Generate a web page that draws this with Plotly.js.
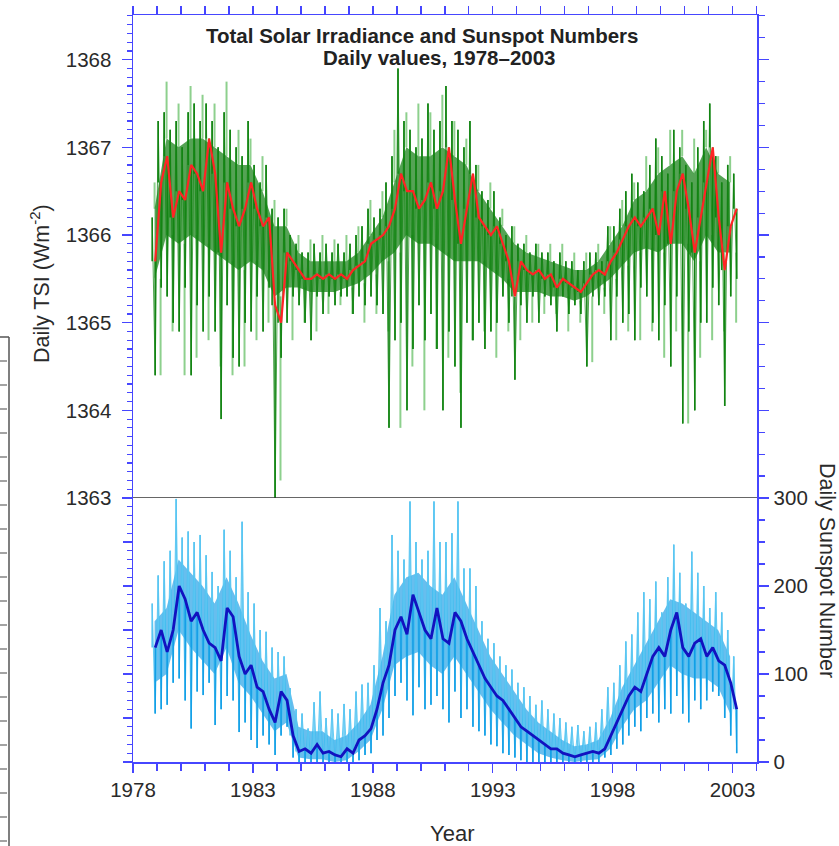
<!DOCTYPE html>
<html>
<head>
<meta charset="utf-8">
<script src="https://cdn.plot.ly/plotly-3.0.1.min.js"></script>
<style>html,body{margin:0;padding:0;background:#fff;}#chart{width:839px;height:846px;}</style>
</head>
<body>
<div id="chart"></div>
<script>
// ---- sampling grids ----
const gridStart = 1978.8;   // quarter-year samples
const gridStep = 0.25;
const halfStart = 1978.9;   // half-year samples
const halfStep = 0.5;

// Daily TSI (W m^-2): upward and downward daily excursions per quarter year (dark green)
const tsiHigh = [1366.2,1367.3,1367.4,1367.2,1367.3,1367.0,1367.4,1367.5,1367.3,1367.5,
  1367.3,1367.0,1367.4,1367.2,1367.0,1366.9,1367.3,1366.8,1366.6,1366.8,
  1366.3,1366.2,1366.3,1366.0,1365.9,1365.8,1365.8,1365.9,1365.8,1365.9,
  1365.8,1365.9,1365.8,1365.9,1366.0,1366.1,1366.3,1366.2,1366.3,1366.6,
  1366.9,1367.9,1367.3,1367.2,1367.0,1367.1,1367.5,1367.2,1367.3,1367.7,
  1367.3,1367.2,1367.0,1367.3,1366.8,1366.5,1366.4,1366.5,1366.2,1366.0,
  1366.1,1365.9,1365.9,1365.8,1365.9,1365.8,1365.8,1365.7,1365.8,1365.7,
  1365.7,1365.6,1365.7,1365.8,1365.8,1365.7,1366.1,1366.1,1366.3,1366.5,
  1366.7,1366.6,1366.5,1366.8,1367.1,1366.9,1366.7,1367.2,1367.0,1366.8,
  1366.6,1367.0,1367.3,1367.5,1366.9,1366.6,1366.8,1366.7];
const tsiLow = [1364.4,1365.4,1365.3,1365.0,1364.9,1365.4,1364.4,1365.2,1364.9,1365.3,
  1364.9,1363.9,1365.2,1364.6,1364.5,1365.0,1364.9,1365.3,1364.9,1365.4,
  1363.0,1364.6,1365.0,1365.3,1365.2,1365.0,1364.8,1365.3,1365.1,1365.3,
  1365.2,1365.3,1365.3,1365.1,1365.3,1365.2,1365.3,1365.2,1365.1,1363.8,
  1364.8,1365.0,1364.0,1364.7,1365.2,1364.8,1365.1,1364.7,1364.0,1364.9,
  1364.5,1363.8,1365.0,1364.8,1365.0,1364.7,1364.9,1365.0,1365.3,1365.0,
  1364.35,1365.2,1365.0,1365.3,1365.0,1365.3,1365.2,1364.9,1365.3,1365.1,
  1365.2,1365.1,1364.5,1365.3,1365.2,1365.3,1364.8,1365.3,1365.0,1365.1,
  1364.8,1365.4,1365.3,1365.0,1364.8,1365.2,1364.5,1365.3,1363.85,1364.9,
  1364.0,1365.0,1365.0,1365.4,1365.2,1364.05,1365.3,1365.5];
// Smoothed TSI (red)
const tsiSmooth = [1365.7,1366.6,1366.9,1366.2,1366.5,1366.4,1366.8,1366.7,1366.5,1367.1,
  1366.7,1365.8,1366.6,1366.3,1366.1,1366.3,1366.6,1366.3,1366.1,1366.2,
  1365.2,1365.0,1365.8,1365.7,1365.6,1365.5,1365.5,1365.55,1365.5,1365.55,
  1365.5,1365.55,1365.5,1365.6,1365.65,1365.7,1365.9,1365.95,1366.0,1366.1,
  1366.3,1366.7,1366.5,1366.5,1366.3,1366.4,1366.6,1366.3,1366.5,1367.0,
  1366.4,1365.9,1366.3,1366.7,1366.2,1366.1,1366.0,1366.1,1365.9,1365.7,
  1365.3,1365.7,1365.6,1365.55,1365.6,1365.5,1365.55,1365.4,1365.5,1365.45,
  1365.4,1365.35,1365.45,1365.55,1365.6,1365.55,1365.7,1365.8,1365.95,1366.1,
  1366.2,1366.1,1366.2,1366.3,1366.0,1366.5,1365.9,1366.5,1366.7,1366.3,
  1365.8,1366.2,1366.6,1367.0,1366.2,1365.6,1366.1,1366.3];
// Dense core of the daily TSI band, half-year samples
const tsiCoreHigh = [1366.3,1367.1,1367.0,1367.1,1367.1,1367.0,1366.9,1366.8,1366.8,1366.5,
  1366.1,1366.1,1365.8,1365.7,1365.7,1365.7,1365.7,1365.8,1366.0,1366.2,
  1366.6,1367.0,1366.9,1366.9,1367.0,1366.9,1366.8,1366.5,1366.3,1366.1,
  1365.9,1365.8,1365.75,1365.7,1365.65,1365.6,1365.6,1365.7,1365.9,1366.1,
  1366.4,1366.5,1366.7,1366.8,1366.9,1366.7,1367.0,1366.7,1366.6];
const tsiCoreLow = [1365.5,1366.0,1365.9,1366.0,1365.9,1365.8,1365.7,1365.6,1365.7,1365.6,
  1365.3,1365.4,1365.4,1365.35,1365.35,1365.35,1365.4,1365.45,1365.55,1365.7,
  1365.8,1366.0,1365.9,1365.9,1365.8,1365.7,1365.7,1365.7,1365.6,1365.5,
  1365.35,1365.35,1365.35,1365.3,1365.3,1365.25,1365.3,1365.4,1365.5,1365.65,
  1365.8,1365.85,1365.8,1365.9,1365.9,1365.7,1366.0,1365.8,1365.8];
// Second TSI composite (light green): half-year extremes
const altHigh = [1366.6,1367.75,1367.5,1367.7,1367.6,1367.5,1367.75,1367.2,1367.1,1366.9,
  1366.4,1366.3,1366.0,1365.95,1366.0,1365.95,1366.0,1366.1,1366.4,1366.5,
  1367.2,1367.4,1367.5,1367.4,1367.6,1367.3,1367.1,1366.8,1366.6,1366.3,
  1366.1,1366.0,1365.9,1365.9,1365.9,1365.8,1365.8,1365.9,1366.1,1366.4,
  1366.6,1366.9,1367.0,1367.2,1367.2,1367.1,1367.2,1366.9,1366.9];
const altLow = [1364.4,1364.9,1364.4,1364.6,1364.8,1364.5,1364.4,1364.5,1364.8,1365.0,
  1363.2,1364.8,1365.0,1364.9,1365.1,1365.2,1365.1,1365.0,1365.1,1364.9,
  1363.8,1364.5,1364.0,1364.7,1364.6,1364.2,1364.8,1364.9,1364.6,1364.9,
  1364.8,1365.0,1365.1,1365.1,1364.9,1365.0,1364.55,1365.1,1364.8,1364.9,
  1364.8,1364.9,1364.6,1364.9,1363.85,1364.6,1364.8,1364.9,1365.0];

// Daily sunspot number: upward / downward daily excursions (light blue) and smoothed (dark blue)
const sunHigh = [180,212,228,240,299,255,262,250,258,235,
  216,200,264,240,210,273,193,180,150,148,
  130,125,120,84,60,55,38,68,80,50,
  60,55,66,60,80,88,90,110,175,160,
  258,240,230,296,250,230,240,296,250,250,
  260,296,220,220,200,160,140,135,120,110,
  105,90,85,75,65,70,60,55,50,45,
  40,42,35,40,45,60,85,90,110,137,
  145,170,193,185,205,170,210,247,215,180,
  239,215,200,175,193,170,150,120];
const sunLow = [55,60,65,90,95,70,38,80,76,90,
  42,60,75,70,34,45,25,16,30,20,
  8,30,40,5,0,0,0,0,0,0,
  0,0,0,0,2,8,10,25,30,50,
  75,90,70,53,85,60,65,75,60,45,
  80,50,60,40,35,30,20,18,10,8,
  5,2,0,0,0,0,0,0,0,0,
  0,0,0,0,0,5,8,15,20,30,
  40,35,50,55,45,60,55,75,55,45,
  70,60,70,80,75,50,30,10];
const sunSmooth = [130,150,125,150,200,185,160,170,150,135,
  130,115,175,165,120,100,110,85,80,60,
  45,80,70,30,12,15,10,20,10,12,
  8,6,15,10,25,30,38,60,90,110,
  150,165,145,190,170,150,140,175,140,135,
  170,160,140,125,110,95,85,75,70,60,
  50,40,35,30,25,20,15,15,10,8,
  6,8,10,12,10,15,30,45,60,75,
  85,80,100,120,130,120,150,170,130,120,
  135,140,120,130,115,110,90,60];
// Dense core of the daily sunspot band, half-year samples (medium blue)
const sunCoreHigh = [160,175,230,215,200,180,210,180,145,115,
  95,100,40,35,35,25,30,45,65,120,
  190,210,215,200,190,210,180,150,120,100,
  80,60,45,35,25,18,20,25,50,85,
  110,135,160,185,180,170,160,150,120];
const sunCoreLow = [90,100,150,130,115,100,130,90,75,55,
  35,45,5,3,3,0,2,12,25,60,
  110,120,125,110,100,120,100,80,60,45,
  30,20,10,5,2,0,2,3,15,40,
  60,70,90,110,100,95,95,85,55];

// ---- build the library's traces from the arrays ----
function gridTimes(n, start, step){ const t=[]; for(let k=0;k<n;k++) t.push(start+k*step); return t; }
function spikes(times, from, to){
  const x=[], y=[];
  for(let k=0;k<times.length;k++){ x.push(times[k],times[k],null); y.push(from[k],to[k],null); }
  return {x, y};
}
function zigzag(times, hi, lo, offset){
  const x=[], y=[];
  for(let k=0;k<times.length;k++){ x.push(times[k], times[k]+offset); y.push(hi[k], lo[k]); }
  return {x, y};
}
function band(times, hi, lo){
  return {x: times.concat(times.slice().reverse()), y: hi.concat(lo.slice().reverse())};
}
const tQ = gridTimes(tsiHigh.length, gridStart, gridStep);
const tQ2 = tQ.map(t => t + gridStep/2);
const tH = gridTimes(altHigh.length, halfStart, halfStep);
const tH2 = tH.map(t => t + gridStep);

const tsiUp = spikes(tQ, tsiSmooth, tsiHigh);
const tsiDown = spikes(tQ2, tsiSmooth, tsiLow);
const tsiZig = zigzag(tQ, tsiHigh, tsiLow, gridStep/2);
const altUp = spikes(tH, tsiCoreHigh, altHigh);
const altDown = spikes(tH2, tsiCoreLow, altLow);
const tsiBand = band(tH, tsiCoreHigh, tsiCoreLow);
const sunUp = spikes(tQ, sunSmooth, sunHigh);
const sunDown = spikes(tQ2, sunSmooth, sunLow);
const sunZig = zigzag(tQ, sunHigh, sunLow, gridStep/2);
const sunBand = band(tH, sunCoreHigh, sunCoreLow);

const BLUE = '#4646ff';
const LG = 'rgba(135,205,135,0.95)';
const DG = '#128412';
const traces = [
  {x: altUp.x, y: altUp.y, mode:'lines', line:{color:LG, width:2}, hoverinfo:'skip'},
  {x: altDown.x, y: altDown.y, mode:'lines', line:{color:LG, width:2}, hoverinfo:'skip'},
  {x: tsiBand.x, y: tsiBand.y, mode:'lines', fill:'toself', fillcolor:'rgba(20,128,20,0.72)', line:{width:0}, hoverinfo:'skip'},
  {x: tsiZig.x, y: tsiZig.y, mode:'lines', line:{color:'rgba(20,135,20,0.75)', width:1}, hoverinfo:'skip'},
  {x: tsiUp.x, y: tsiUp.y, mode:'lines', line:{color:DG, width:1.6}, hoverinfo:'skip'},
  {x: tsiDown.x, y: tsiDown.y, mode:'lines', line:{color:DG, width:1.6}, hoverinfo:'skip'},
  {x: tQ2, y: tsiSmooth, mode:'lines', line:{color:'#ff2424', width:2.2}, hoverinfo:'skip'},
  {x: sunBand.x, y: sunBand.y, yaxis:'y2', mode:'lines', fill:'toself', fillcolor:'rgba(10,150,228,0.62)', line:{width:0}, hoverinfo:'skip'},
  {x: sunZig.x, y: sunZig.y, yaxis:'y2', mode:'lines', line:{color:'rgba(60,190,240,0.8)', width:1}, hoverinfo:'skip'},
  {x: sunUp.x, y: sunUp.y, yaxis:'y2', mode:'lines', line:{color:'#5ac6f2', width:1.6}, hoverinfo:'skip'},
  {x: sunDown.x, y: sunDown.y, yaxis:'y2', mode:'lines', line:{color:'#129ee6', width:1.6}, hoverinfo:'skip'},
  {x: tQ2, y: sunSmooth, yaxis:'y2', mode:'lines', line:{color:'#1212c0', width:2.8}, hoverinfo:'skip'}
];
traces.forEach(t => { t.xaxis = 'x'; if(!t.yaxis) t.yaxis = 'y'; });

const split = 264/747;
const xTicks = [1978,1983,1988,1993,1998,2003];
const tickFont = {family:'Liberation Sans, Arial, sans-serif', size:20.5, color:'#2a2a2a'};

// divider and the decorative clipped frame at the far left of the picture
const px = v => (v-133)/624, py = v => (762-v)/747;
const shapes = [
  {type:'line', xref:'paper', yref:'y', x0:0, x1:1, y0:1363, y1:1363, line:{color:'#333', width:1.5}},
  {type:'line', xref:'paper', yref:'paper', x0:px(9), x1:px(9), y0:py(337), y1:py(846), line:{color:'#555', width:1.5}},
  {type:'line', xref:'paper', yref:'paper', x0:px(0), x1:px(9), y0:py(337), y1:py(337), line:{color:'#555', width:1.5}}
];
for(let yy=361; yy<846; yy+=24){
  shapes.push({type:'line', xref:'paper', yref:'paper', x0:px(0), x1:px(7), y0:py(yy), y1:py(yy), line:{color:'#666', width:1.2}});
}

const axisLine = {showline:true, linecolor:BLUE, linewidth:1.5, ticks:'outside', tickwidth:1.5, tickcolor:BLUE, showgrid:false, zeroline:false};
const layout = {
  width:839, height:846,
  margin:{l:133, r:82, t:15, b:84},
  paper_bgcolor:'#fff', plot_bgcolor:'#fff',
  showlegend:false,
  font:{family:'Liberation Sans, Arial, sans-serif', color:'#2a2a2a'},
  xaxis:Object.assign({}, axisLine, {domain:[0,1], anchor:'y2', range:[1978,2004.02], tickvals:xTicks, ticktext:xTicks.map(String),
    ticklen:9, minor:{ticks:'outside', dtick:1, tick0:1978, ticklen:7, tickcolor:BLUE, tickwidth:1.5},
    tickfont:tickFont}),
  xaxis2:Object.assign({}, axisLine, {overlaying:'x', anchor:'y', side:'top', range:[1978,2004.02], showticklabels:false,
    tickvals:xTicks, ticklen:8, minor:{ticks:'outside', dtick:1, tick0:1978, ticklen:8, tickcolor:BLUE, tickwidth:1.5}}),
  yaxis:Object.assign({}, axisLine, {domain:[split,1], anchor:'x', range:[1363,1368.51], tickvals:[1363,1364,1365,1366,1367,1368],
    ticklen:10, minor:{ticks:'outside', dtick:0.1, tick0:1363, ticklen:5, tickcolor:BLUE, tickwidth:1.2},
    tickfont:tickFont, ticklabelstandoff:6}),
  yaxis2:Object.assign({}, axisLine, {domain:[0,split], anchor:'x', range:[0,300], showticklabels:false, tickvals:[0,50,100,150,200,250,300],
    ticklen:9, minor:{ticks:'outside', dtick:10, tick0:0, ticklen:5, tickcolor:BLUE, tickwidth:1.2}}),
  yaxis3:Object.assign({}, axisLine, {overlaying:'y', side:'right', anchor:'x', range:[1363,1368.51], showticklabels:false,
    tickvals:[1363,1364,1365,1366,1367,1368], ticklen:10,
    minor:{ticks:'outside', dtick:0.25, tick0:1363, ticklen:6, tickcolor:BLUE, tickwidth:1.2}}),
  yaxis4:Object.assign({}, axisLine, {overlaying:'y2', side:'right', anchor:'x', range:[0,300], tickvals:[0,100,200,300],
    ticklen:10, minor:{ticks:'outside', dtick:25, tick0:0, ticklen:6, tickcolor:BLUE, tickwidth:1.2},
    tickfont:tickFont, ticklabelstandoff:1}),
  shapes: shapes,
  annotations:[
    {text:'<b>Total Solar Irradiance and Sunspot Numbers</b>', xref:'paper', yref:'paper', x:px(422), y:py(35),
      showarrow:false, xanchor:'center', yanchor:'middle', font:{size:20.5, color:'#222'}},
    {text:'<b>Daily values, 1978–2003</b>', xref:'paper', yref:'paper', x:px(439), y:py(57),
      showarrow:false, xanchor:'center', yanchor:'middle', font:{size:20.5, color:'#222'}},
    {text:'Daily TSI (Wm<sup>-2</sup>)', xref:'paper', yref:'paper', x:px(40), y:py(284), textangle:-90,
      showarrow:false, xanchor:'center', yanchor:'middle', font:{size:21.5, color:'#2a2a2a'}},
    {text:'Daily Sunspot Number', xref:'paper', yref:'paper', x:px(827), y:py(570), textangle:90,
      showarrow:false, xanchor:'center', yanchor:'middle', font:{size:21.5, color:'#2a2a2a'}},
    {text:'Year', xref:'paper', yref:'paper', x:px(452), y:py(833),
      showarrow:false, xanchor:'center', yanchor:'middle', font:{size:22, color:'#2a2a2a'}}
  ]
};

// attach the right-hand / top overlay axes
traces.push({x:[], y:[], xaxis:'x2', yaxis:'y3', mode:'lines', hoverinfo:'skip'});
traces.push({x:[], y:[], xaxis:'x', yaxis:'y4', mode:'lines', hoverinfo:'skip'});

Plotly.newPlot('chart', traces, layout, {displayModeBar:false, staticPlot:true});
</script>
</body>
</html>
